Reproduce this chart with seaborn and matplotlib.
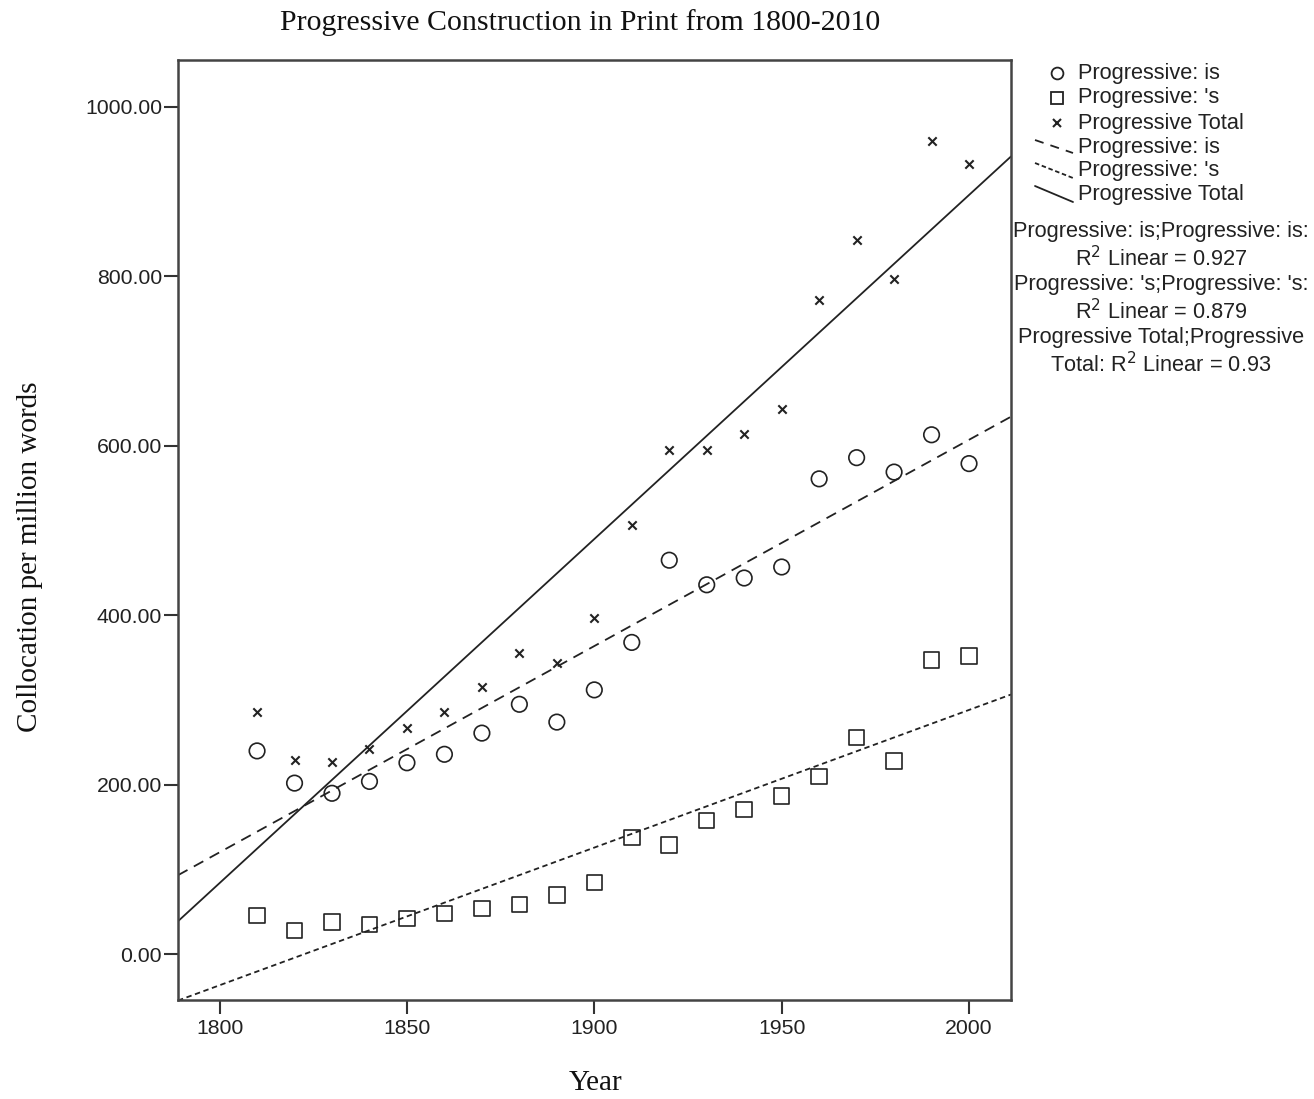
import numpy as np
import pandas as pd
import matplotlib
matplotlib.use("Agg")
import matplotlib.pyplot as plt
from matplotlib.lines import Line2D
import seaborn as sns

years = [1810, 1820, 1830, 1840, 1850, 1860, 1870, 1880, 1890, 1900,
         1910, 1920, 1930, 1940, 1950, 1960, 1970, 1980, 1990, 2000]
prog_is = [240, 202, 190, 204, 226, 236, 261, 295, 274, 312,
           368, 465, 436, 444, 457, 561, 586, 569, 613, 579]
prog_s = [46, 28, 38, 35, 42, 48, 54, 59, 70, 85,
          138, 129, 158, 171, 187, 210, 256, 228, 347, 352]
prog_total = [286, 229, 227, 242, 267, 286, 315, 355, 344, 397,
              507, 595, 595, 614, 643, 772, 843, 797, 960, 932]

r2_labels = ["Progressive: is;Progressive: is:\nR$^2$ Linear = 0.927",
             "Progressive: 's;Progressive: 's:\nR$^2$ Linear = 0.879",
             "Progressive Total;Progressive\nTotal: R$^2$ Linear = 0.93"]

df = pd.DataFrame({"Year": years, "is": prog_is, "s": prog_s, "total": prog_total})

sns.set_style("white")
plt.rcParams["font.family"] = ["Liberation Sans", "DejaVu Sans"]

INK = "#222222"
XLIM = (1788.9, 2011.2)
YLIM = (-53.9, 1055.2)

fig = plt.figure(figsize=(13.14, 10.99), dpi=100)
ax = fig.add_axes([178 / 1314, 1 - 1000 / 1099, 833 / 1314, 940 / 1099])
ax.set_xlim(*XLIM)
ax.set_ylim(*YLIM)

# scatter points
sns.scatterplot(data=df, x="Year", y="is", ax=ax, marker="o", s=125,
                facecolor="none", edgecolor=INK, linewidth=1.2, zorder=3)
sns.scatterplot(data=df, x="Year", y="s", ax=ax, marker="s", s=125,
                facecolor="none", edgecolor=INK, linewidth=1.2, zorder=3)
sns.scatterplot(data=df, x="Year", y="total", ax=ax, marker="x", s=36,
                color=INK, linewidth=1.5, zorder=3)

# linear fit lines spanning the full x range
sns.regplot(data=df, x="Year", y="is", ax=ax, scatter=False, ci=None, truncate=False,
            line_kws=dict(color=INK, linewidth=1.3, dashes=(6, 4)))
sns.regplot(data=df, x="Year", y="s", ax=ax, scatter=False, ci=None, truncate=False,
            line_kws=dict(color=INK, linewidth=1.3, dashes=(3, 2)))
sns.regplot(data=df, x="Year", y="total", ax=ax, scatter=False, ci=None, truncate=False,
            line_kws=dict(color=INK, linewidth=1.3))

ax.set_xlim(*XLIM)
ax.set_ylim(*YLIM)

ax.set_xticks([1800, 1850, 1900, 1950, 2000])
ax.set_yticks([0, 200, 400, 600, 800, 1000])
ax.set_yticklabels([f"{v:.2f}" for v in [0, 200, 400, 600, 800, 1000]])
ax.tick_params(axis="both", direction="out", length=10, width=1.5, color="#333333",
               labelsize=15.3, labelcolor=INK, left=True, bottom=True, pad=1.5)
ax.tick_params(axis="x", pad=4)
for sp in ax.spines.values():
    sp.set_color("#444444")
    sp.set_linewidth(1.8)

ax.set_xlabel("")
ax.set_ylabel("")

serif = ["Liberation Serif", "DejaVu Serif"]
fig.text(580 / 1314, 1 - 23 / 1099, "Progressive Construction in Print from 1800-2010",
         ha="center", va="center", fontsize=21.5, family=serif, color="#111111")
fig.text(596 / 1314, 1 - 1083 / 1099, "Year", ha="center", va="center",
         fontsize=21, family=serif, color="#111111")
fig.text(30 / 1314, 1 - 557 / 1099, "Collocation per million words", ha="center",
         va="center", rotation=90, fontsize=21, family=serif, color="#111111")

# legend drawn in figure pixel coordinates
def fx(px):
    return px / 1314

def fy(py):
    return 1 - py / 1099

legend_rows = [73, 98, 123, 147, 171, 194]
legend_names = ["Progressive: is", "Progressive: 's", "Progressive Total",
                "Progressive: is", "Progressive: 's", "Progressive Total"]
for yy, name in zip(legend_rows, legend_names):
    fig.text(fx(1078), fy(yy), name, ha="left", va="center", fontsize=15.7, color=INK)

fig.add_artist(Line2D([fx(1057)], [fy(73)], marker="o", markersize=8.5, markerfacecolor="none",
                      markeredgecolor=INK, markeredgewidth=1.3, transform=fig.transFigure))
fig.add_artist(Line2D([fx(1057)], [fy(98)], marker="s", markersize=8.5, markerfacecolor="none",
                      markeredgecolor=INK, markeredgewidth=1.3, transform=fig.transFigure))
fig.add_artist(Line2D([fx(1057)], [fy(123)], marker="x", markersize=5.5, color=INK,
                      markeredgewidth=1.5, transform=fig.transFigure))
fig.add_artist(Line2D([fx(1035), fx(1073)], [fy(140), fy(153)], color=INK,
                      linewidth=1.3, dashes=(5, 4), transform=fig.transFigure))
fig.add_artist(Line2D([fx(1035), fx(1073)], [fy(163), fy(178)], color=INK,
                      linewidth=1.3, dashes=(2.5, 1.5), transform=fig.transFigure))
fig.add_artist(Line2D([fx(1035), fx(1073)], [fy(186), fy(202)], color=INK,
                      linewidth=1.3, transform=fig.transFigure))

for yy, txt in zip([246, 299, 352], r2_labels):
    fig.text(fx(1161), fy(yy), txt, ha="center", va="center", fontsize=15.7,
             color=INK, linespacing=1.2)

fig.savefig("out.png", dpi=100, facecolor="white")
